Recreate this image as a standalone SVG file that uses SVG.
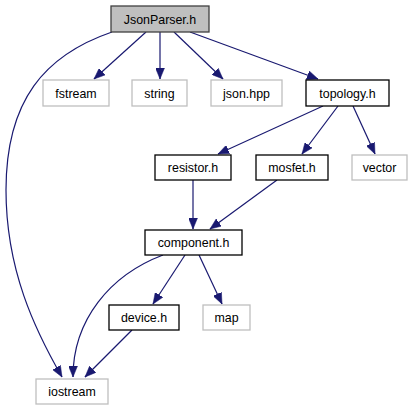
<svg xmlns="http://www.w3.org/2000/svg" width="414" height="411" viewBox="0 0 414 411">
<style>
text{font-family:"Liberation Sans",Arial,sans-serif;font-size:12.4px;text-anchor:middle;fill:#000}
.n rect{fill:#fff;stroke:#000;stroke-width:1.3}
.g rect{fill:#fff;stroke:#bfbfbf;stroke-width:1.3}
.r rect{fill:#bfbfbf;stroke:#404040;stroke-width:1.3}
.e path{fill:none;stroke:#191970;stroke-width:1.2;marker-end:url(#a)}
</style>
<defs>
<marker id="a" markerUnits="userSpaceOnUse" markerWidth="12" markerHeight="9" refX="11" refY="4.5" orient="auto">
<path d="M0,0 L11,4.5 L0,9 z" fill="#191970" stroke="#191970" stroke-width="0.5"/>
</marker>
</defs>
<g id="edges" class="e">
<path d="M146,32 L94,79"/>
<path d="M160,32 L160,79"/>
<path d="M174,32 L223,79"/>
<path d="M190,32 L318,79"/>
<path d="M112,32 C45,55 6,100 6,190 C6,270 35,330 62,377"/>
<path d="M323,106 L218,154"/>
<path d="M338,106 L302,154"/>
<path d="M353,106 L375,154"/>
<path d="M193,180 L193,229"/>
<path d="M277,180 L210,229"/>
<path d="M185,255 L153,304"/>
<path d="M199,255 L222,304"/>
<path d="M163,255 C110,275 73,320 73,377"/>
<path d="M132,330 L85,377"/>
</g>
<g id="JsonParser" class="r"><rect x="111" y="6" width="98" height="26"/><text x="160" y="23.5">JsonParser.h</text></g>
<g id="fstream" class="g"><rect x="43" y="80" width="66" height="26"/><text x="76" y="97.5">fstream</text></g>
<g id="string" class="g"><rect x="132" y="80" width="55" height="26"/><text x="159.5" y="97.5">string</text></g>
<g id="jsonhpp" class="g"><rect x="211" y="80" width="71" height="26"/><text x="246.5" y="97.5">json.hpp</text></g>
<g id="topology" class="n"><rect x="306" y="80" width="83" height="26"/><text x="347.5" y="97.5">topology.h</text></g>
<g id="resistor" class="n"><rect x="155" y="155" width="76" height="25"/><text x="193" y="172">resistor.h</text></g>
<g id="mosfet" class="n"><rect x="256" y="155" width="72" height="25"/><text x="292" y="172">mosfet.h</text></g>
<g id="vector" class="g"><rect x="352" y="155" width="55" height="25"/><text x="379.5" y="172">vector</text></g>
<g id="component" class="n"><rect x="145" y="230" width="97" height="25"/><text x="193.5" y="247">component.h</text></g>
<g id="device" class="n"><rect x="109" y="305" width="70" height="25"/><text x="144" y="322">device.h</text></g>
<g id="map" class="g"><rect x="203" y="305" width="47" height="25"/><text x="226.5" y="322">map</text></g>
<g id="iostream" class="g"><rect x="36" y="379" width="72" height="25"/><text x="72" y="396">iostream</text></g>
</svg>
